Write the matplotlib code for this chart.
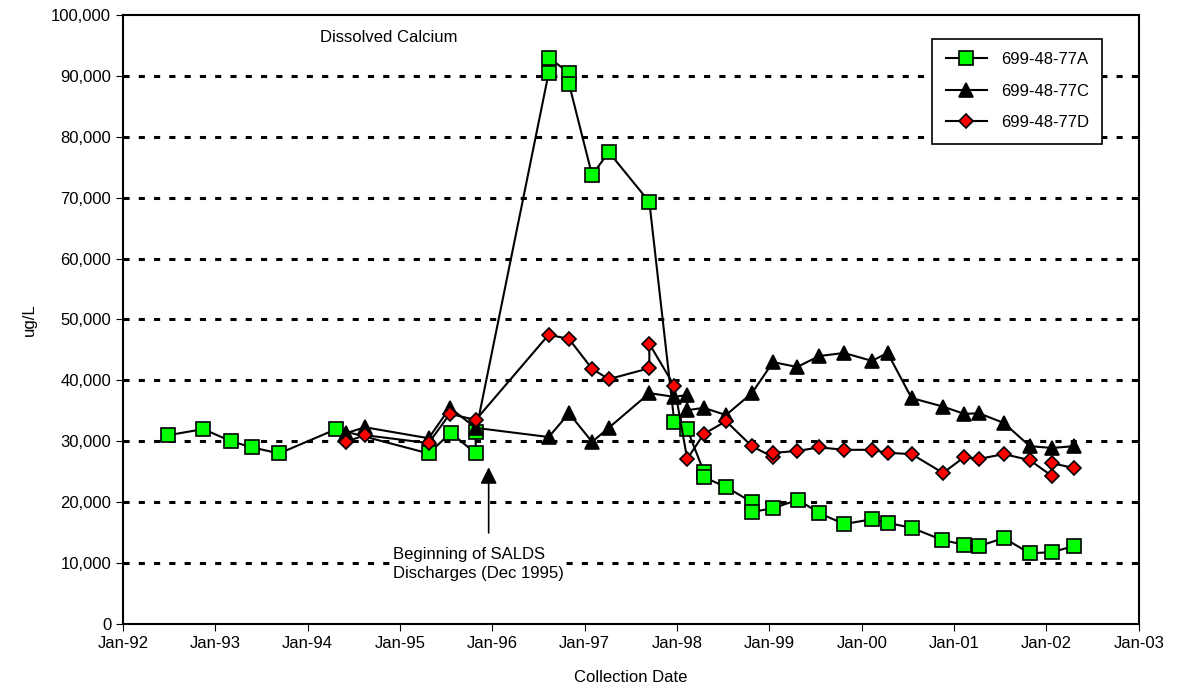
import matplotlib
matplotlib.use("Agg")
import matplotlib.pyplot as plt
from matplotlib.ticker import FuncFormatter

plt.rcParams['font.family'] = ['Liberation Sans', 'DejaVu Sans']

a_x = [1992.49,1992.87,1993.17,1993.40,1993.69,1994.31,1995.31,1995.55,1995.82,1995.82,
       1996.61,1996.61,1996.83,1996.83,1997.08,1997.26,1997.70,1997.97,1998.11,1998.29,1998.29,
       1998.53,1998.81,1998.81,1999.04,1999.31,1999.54,1999.81,2000.11,2000.28,2000.54,
       2000.87,2001.11,2001.27,2001.54,2001.82,2002.06,2002.30]
a_y = [31000,32000,30000,29000,28000,32000,28000,31400,28000,31500,
       90500,93000,90500,88700,73700,77500,69300,33200,32000,25000,24100,
       22500,20000,18400,19000,20400,18200,16400,17200,16600,15800,
       13800,13000,12800,14100,11600,11800,12800]
c_x = [1994.41,1994.62,1995.31,1995.54,1995.82,1996.61,1996.83,1997.08,1997.26,1997.70,
       1997.97,1998.11,1998.11,1998.29,1998.53,1998.81,1999.04,1999.30,1999.54,1999.81,
       2000.11,2000.28,2000.54,2000.88,2001.11,2001.27,2001.54,2001.82,2002.06,2002.30]
c_y = [31300,32300,30500,35500,32200,30700,34600,29900,32200,37900,
       37300,37600,35100,35500,34300,37900,43000,42200,44000,44500,
       43200,44500,37100,35700,34500,34600,33000,29200,28900,29200]
d_x = [1994.41,1994.62,1995.31,1995.54,1995.82,1996.61,1996.83,1997.08,1997.26,1997.70,1997.70,
       1997.97,1998.11,1998.29,1998.53,1998.81,1999.04,1999.04,1999.30,1999.54,1999.81,2000.11,
       2000.28,2000.54,2000.88,2001.11,2001.27,2001.54,2001.82,2002.06,2002.06,2002.30]
d_y = [29900,31000,29700,34500,33500,47500,46800,41900,40200,42000,46000,
       39100,27100,31200,33300,29200,27400,28100,28400,29000,28600,28600,
       28100,27900,24800,27400,27100,27900,26900,24300,26400,25600]
x_ticks = [1992 + i for i in range(12)]
x_labels = ["Jan-%02d" % ((92 + i) % 100) for i in range(12)]

fig = plt.figure(figsize=(11.77, 7.0), dpi=100)
ax = fig.add_axes([0.1045, 0.1086, 0.863, 0.870])
kw = dict(color="black", lw=1.5, mec="black", mew=1.2)
ax.plot(a_x, a_y, marker="s", ms=10, mfc="#00ff00", label="699-48-77A", **kw)
ax.plot(c_x, c_y, marker="^", ms=10, mfc="black", label="699-48-77C", **kw)
ax.plot(d_x, d_y, marker="D", ms=7, mfc="red", label="699-48-77D", **kw)

ax.set_xlim(1992, 2003)
ax.set_ylim(0, 100000)
ax.set_xticks(x_ticks)
ax.set_xticklabels(x_labels)
ax.set_yticks(range(0, 100001, 10000))
ax.yaxis.set_major_formatter(FuncFormatter(lambda v, p: f"{int(v):,}"))
ax.tick_params(labelsize=12, direction="out", length=5)
for v in range(10000, 100000, 10000):
    ax.axhline(v, color="black", lw=2.2, ls=(0, (2, 3)), zorder=0)
for s in ax.spines.values():
    s.set_linewidth(1.5)
ax.set_xlabel("Collection Date", fontsize=12, labelpad=14)
ax.set_ylabel("ug/L", fontsize=12, labelpad=10)

ax.text(1994.13, 95500, "Dissolved Calcium", fontsize=12)
ax.annotate("", xy=(1995.96, 26200), xytext=(1995.96, 14500),
            arrowprops=dict(arrowstyle="-|>", color="black", lw=1.2, mutation_scale=25))
ax.text(1994.92, 9800, "Beginning of SALDS\nDischarges (Dec 1995)", fontsize=12, va="center",
        linespacing=1.35, bbox=dict(facecolor="white", edgecolor="none", pad=1))

leg = ax.legend(loc="upper right", bbox_to_anchor=(0.972, 0.975), fontsize=12, frameon=True,
                fancybox=False, edgecolor="black", framealpha=1, borderpad=0.8,
                labelspacing=1.0, handlelength=2.5)
leg.get_frame().set_linewidth(1.2)
leg.set_zorder(5)
fig.savefig("out.png", dpi=100)
